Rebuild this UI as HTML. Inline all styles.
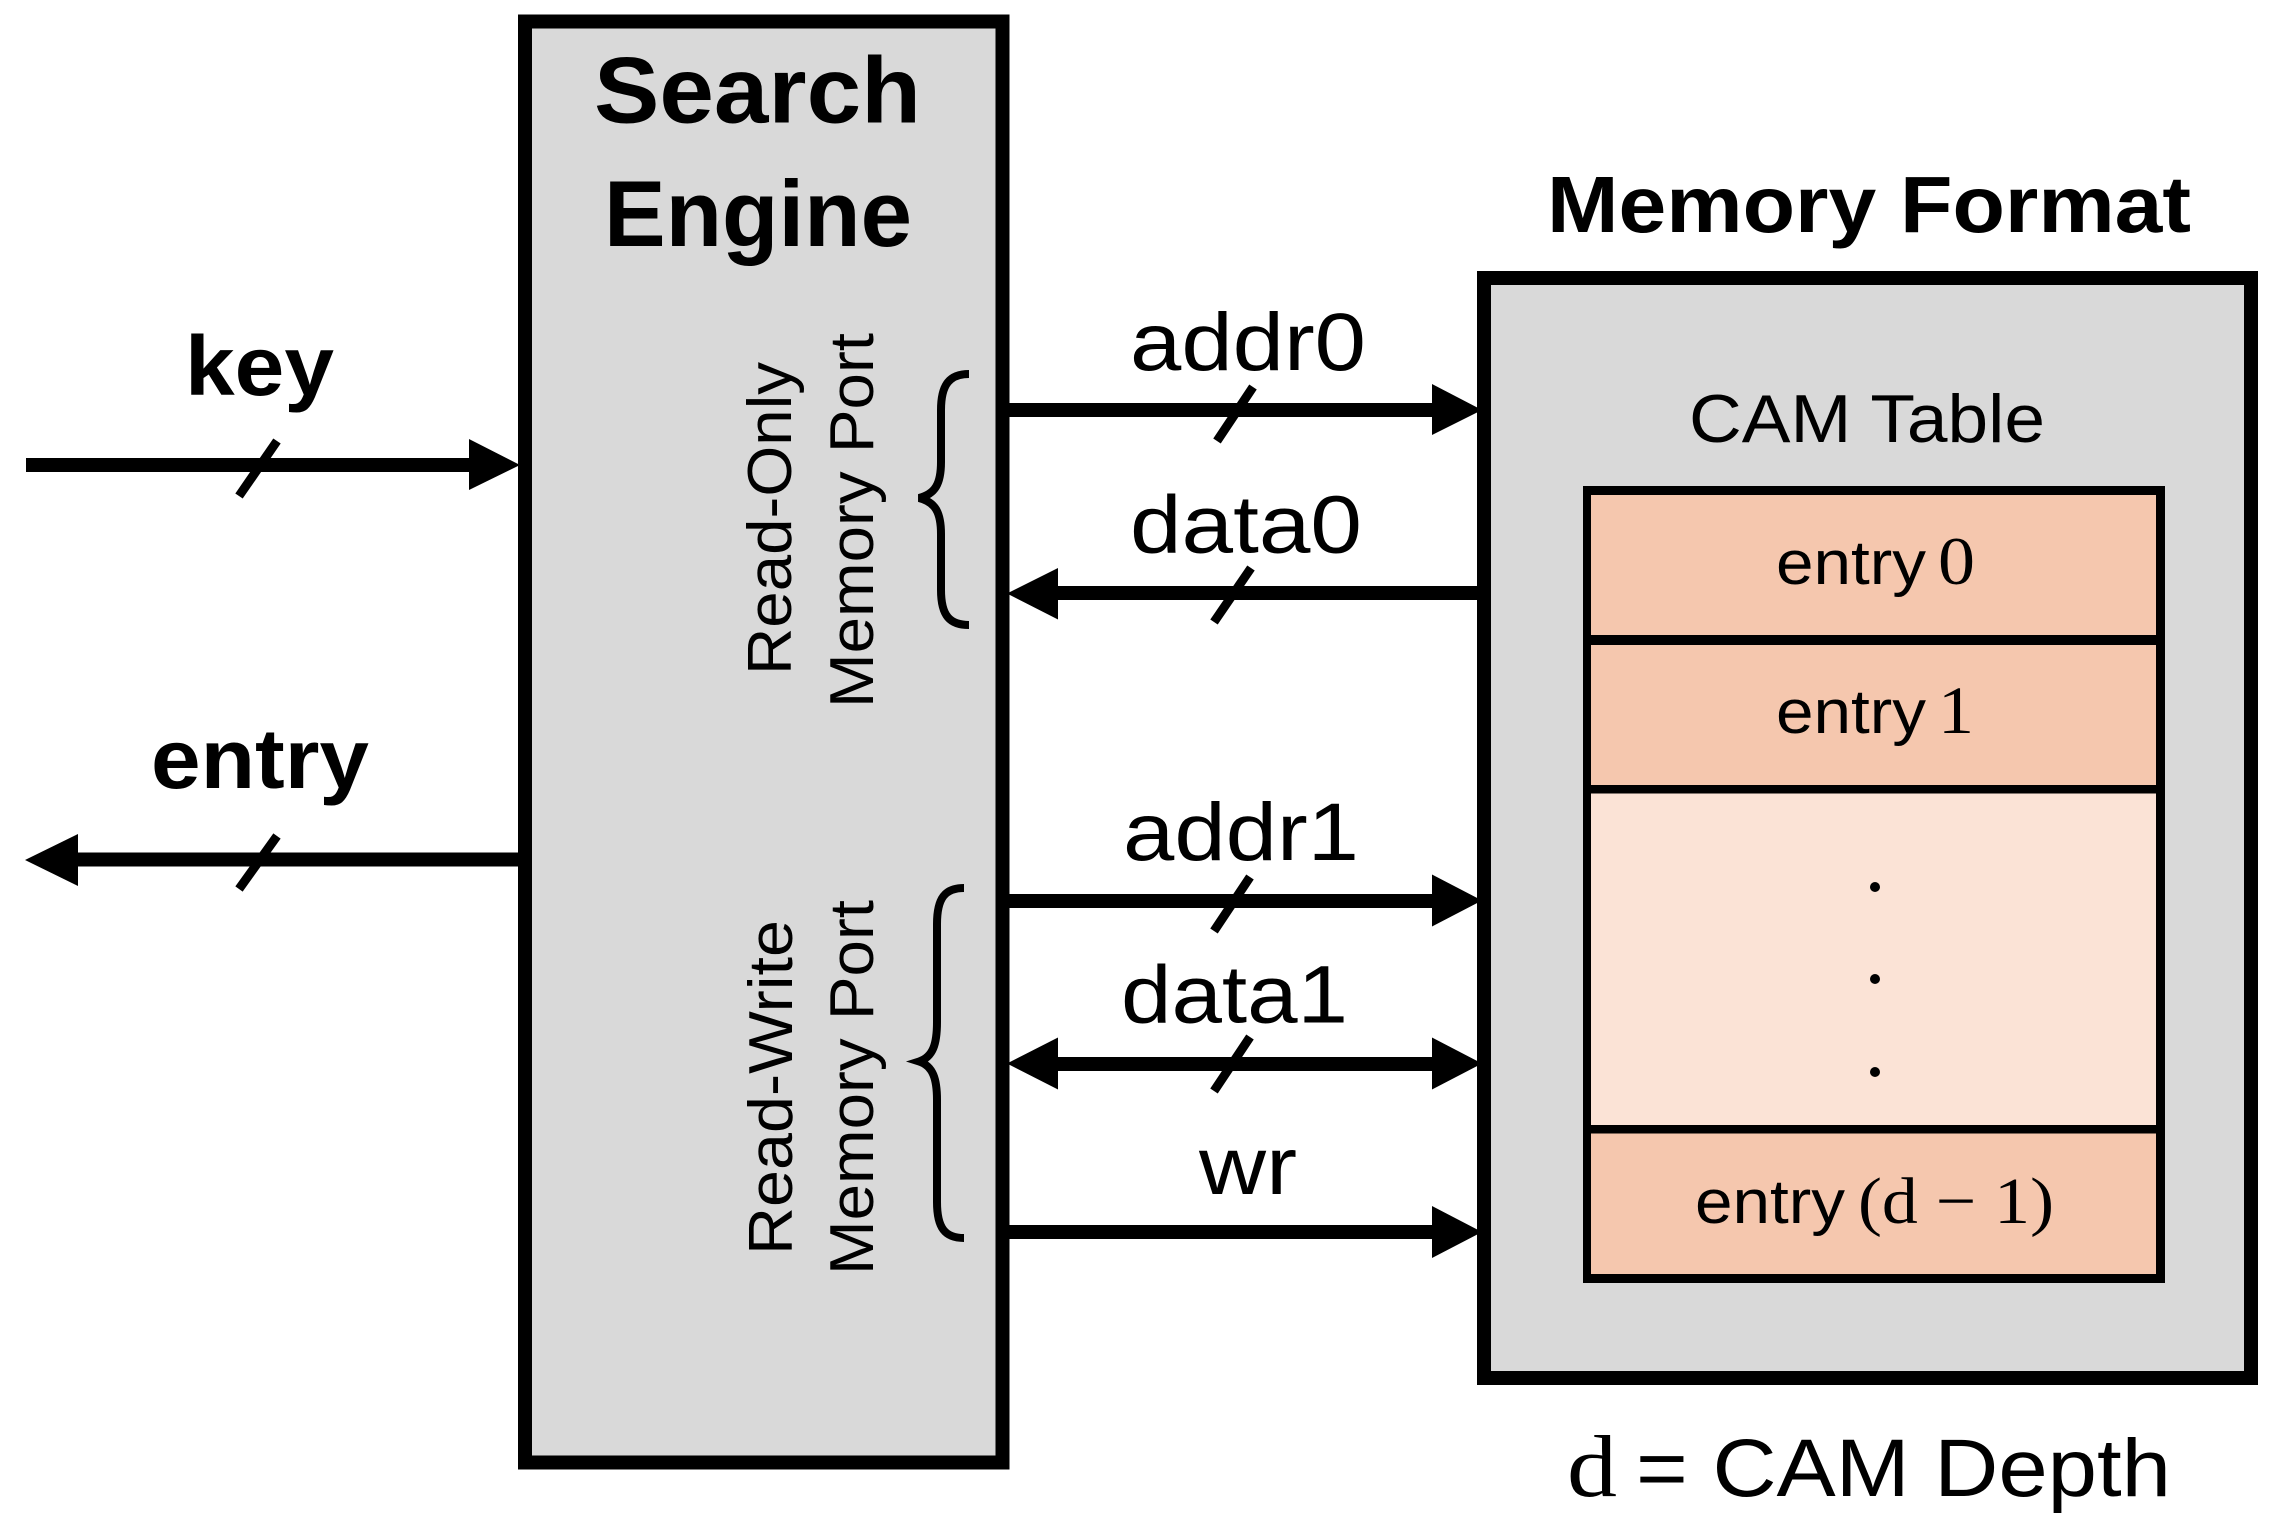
<!DOCTYPE html>
<html><head><meta charset="utf-8"><style>
html,body{margin:0;padding:0;background:#fff}
svg{display:block}
text{font-family:"Liberation Sans",sans-serif;fill:#000}
.b{font-weight:bold}
.s{font-family:"Liberation Serif",serif}
</style></head><body>
<svg width="2288" height="1535" viewBox="0 0 2288 1535" xmlns="http://www.w3.org/2000/svg">
<rect width="2288" height="1535" fill="#fff"/>
<!-- boxes -->
<rect x="525" y="21.5" width="477.5" height="1441" fill="#d9d9d9" stroke="#000" stroke-width="14"/>
<rect x="1484" y="278" width="767" height="1100" fill="#d9d9d9" stroke="#000" stroke-width="14"/>
<rect x="1583" y="486" width="582" height="797" fill="#000"/>
<rect x="1591" y="495" width="565" height="140" fill="#f5c7ae"/>
<rect x="1591" y="645" width="565" height="140" fill="#f5c7ae"/>
<rect x="1591" y="793.5" width="565" height="331.5" fill="#fbe3d6"/>
<rect x="1591" y="1133.5" width="565" height="140.5" fill="#f5c7ae"/>
<circle cx="1875" cy="887" r="5"/><circle cx="1875" cy="979" r="5"/><circle cx="1875" cy="1072" r="5"/>
<!-- arrows -->
<g fill="#000">
<rect x="26" y="458" width="450" height="14"/><path d="M469 439L520 465L469 490Z" />
<rect x="70" y="852.5" width="448" height="14"/><path d="M25 860L78 834V886Z"/>
<rect x="1009" y="403" width="430" height="14"/><path d="M1432 384L1482 410L1432 435Z"/>
<rect x="1050" y="586" width="427" height="14"/><path d="M1007 593.5L1058 568V619.5Z"/>
<rect x="1009" y="894" width="430" height="14"/><path d="M1432 874.5L1482 900.5L1432 926.5Z"/>
<rect x="1050" y="1057" width="390" height="14"/><path d="M1007 1063.5L1058 1037.5V1089.5Z"/><path d="M1432 1037.5L1482 1063.5L1432 1089.5Z"/>
<rect x="1009" y="1225" width="430" height="14"/><path d="M1432 1206L1482 1232L1432 1258Z"/>
</g>
<!-- slashes -->
<g stroke="#000" stroke-width="9" fill="none">
<path d="M239 496L277 441"/><path d="M239 889L277 836"/>
<path d="M1217 441L1253 387"/><path d="M1214 622L1251 568"/>
<path d="M1214 931L1250 877"/><path d="M1214 1091L1250 1037"/>
</g>
<!-- braces -->
<g stroke="#000" stroke-width="8" fill="none">
<path d="M969 374C950 374 941 384 941 410V462C941 484 935 494 919 498C935 502 941 512 941 534V590C941 616 950 625 969 625"/>
<path d="M964 888C945 888 937 898 937 924V1022C937 1044 933 1057 919 1061.5C933 1066 937 1079 937 1100V1202C937 1228 945 1238 964 1238"/>
</g>
<!-- text -->
<text class="b" x="594" y="122.5" font-size="94" textLength="327" lengthAdjust="spacingAndGlyphs">Search</text>
<text class="b" x="604" y="246" font-size="94" textLength="308" lengthAdjust="spacingAndGlyphs">Engine</text>
<text class="b" x="185" y="395" font-size="84" textLength="149" lengthAdjust="spacingAndGlyphs">key</text>
<text class="b" x="151" y="788" font-size="84" textLength="218" lengthAdjust="spacingAndGlyphs">entry</text>
<text class="b" x="1547" y="232" font-size="80" textLength="644" lengthAdjust="spacingAndGlyphs">Memory Format</text>
<text x="1130" y="370" font-size="82" textLength="236" lengthAdjust="spacingAndGlyphs">addr0</text>
<text x="1130" y="552.5" font-size="82" textLength="232" lengthAdjust="spacingAndGlyphs">data0</text>
<text x="1123" y="860" font-size="82" textLength="236" lengthAdjust="spacingAndGlyphs">addr1</text>
<text x="1121" y="1022.5" font-size="82" textLength="227" lengthAdjust="spacingAndGlyphs">data1</text>
<text x="1199" y="1194" font-size="82" textLength="98" lengthAdjust="spacingAndGlyphs">wr</text>
<text x="1689" y="442" font-size="68" textLength="356" lengthAdjust="spacingAndGlyphs">CAM Table</text>
<text x="1776" y="584" font-size="62" textLength="150" lengthAdjust="spacingAndGlyphs">entry</text>
<text class="s" x="1938" y="584" font-size="68" textLength="37" lengthAdjust="spacingAndGlyphs">0</text>
<text x="1776" y="733" font-size="62" textLength="150" lengthAdjust="spacingAndGlyphs">entry</text>
<text class="s" x="1938" y="733" font-size="68" textLength="36" lengthAdjust="spacingAndGlyphs">1</text>
<text x="1695" y="1223" font-size="62" textLength="150" lengthAdjust="spacingAndGlyphs">entry</text>
<text class="s" x="1858" y="1223" font-size="66" textLength="196" lengthAdjust="spacingAndGlyphs">(d − 1)</text>
<text class="s" x="1567" y="1496" font-size="88" textLength="50" lengthAdjust="spacingAndGlyphs">d</text>
<text x="1636" y="1496" font-size="82" textLength="535" lengthAdjust="spacingAndGlyphs">= CAM Depth</text>
<text transform="translate(791 675) rotate(-90)" font-size="62" textLength="313" lengthAdjust="spacingAndGlyphs">Read-Only</text>
<text transform="translate(873 708) rotate(-90)" font-size="62" textLength="375" lengthAdjust="spacingAndGlyphs">Memory Port</text>
<text transform="translate(792 1255) rotate(-90)" font-size="62" textLength="335" lengthAdjust="spacingAndGlyphs">Read-Write</text>
<text transform="translate(873 1275) rotate(-90)" font-size="62" textLength="375" lengthAdjust="spacingAndGlyphs">Memory Port</text>
</svg>
</body></html>
